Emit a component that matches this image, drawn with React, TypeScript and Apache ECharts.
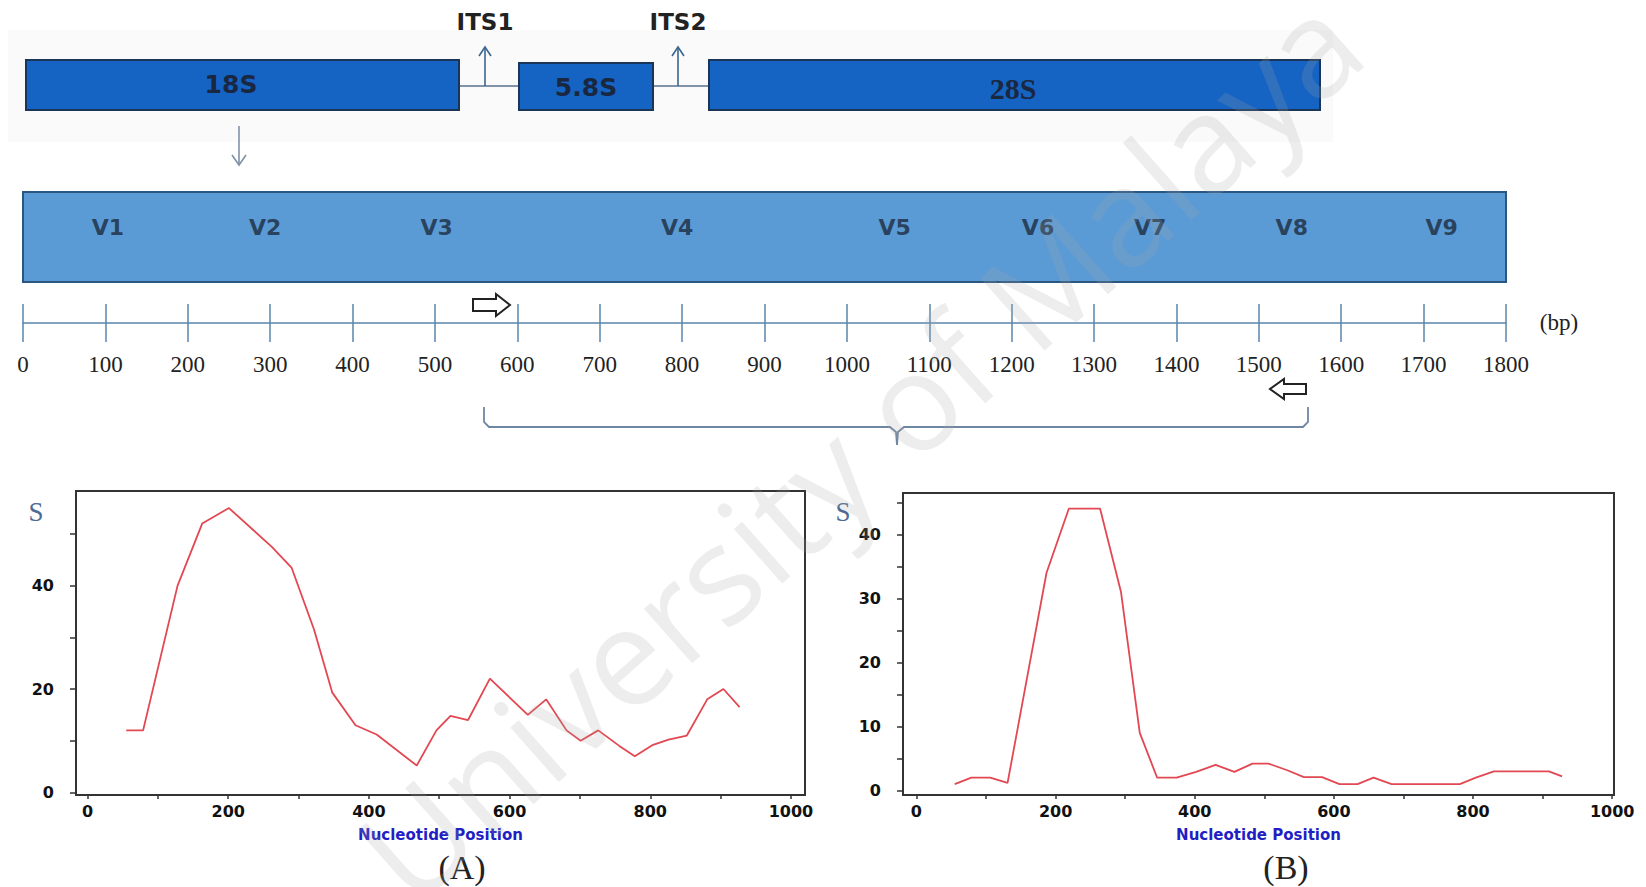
import React, { useEffect, useRef } from "react";
import * as echarts from "echarts";

// ---------- data ----------
const geneNames = ["18S", "5.8S", "28S"];
const spacerNames = ["ITS1", "ITS2"];
const regionNames = ["V1", "V2", "V3", "V4", "V5", "V6", "V7", "V8", "V9"];
const regionPos = [103, 294, 502, 794, 1058, 1232, 1368, 1540, 1722]; // bp
const rulerMin = 0;
const rulerMax = 1800;
const rulerStep = 100;

const xTickValues = [0, 100, 200, 300, 400, 500, 600, 700, 800, 900, 1000];
const xLabelValues = [0, 200, 400, 600, 800, 1000];
const yTickValuesA = [0, 10, 20, 30, 40, 50];
const yLabelValuesA = [0, 20, 40];
const yTickValuesB = [0, 5, 10, 15, 20, 25, 30, 35, 40, 45];
const yLabelValuesB = [0, 10, 20, 30, 40];

const posA = [55, 79, 128, 163, 201, 262, 290, 322, 348, 381, 411, 468, 496, 516, 541, 572, 626, 652, 681, 701, 726, 756, 778, 804, 826, 852, 881, 904, 927];
const valA = [12, 12, 40, 52, 55, 47.5, 43.5, 31.5, 19.3, 13, 11.2, 5.2, 12, 14.8, 14, 22, 15, 18, 12, 10, 12, 9, 7, 9.2, 10.2, 11, 18, 20, 16.5];

const posB = [55, 79, 106, 131, 187, 219, 264, 294, 321, 346, 374, 402, 430, 457, 483, 506, 532, 557, 583, 608, 634, 657, 683, 781, 804, 830, 909, 928];
const valB = [1, 2, 2, 1.2, 34, 44, 44, 31, 9, 2, 2, 2.9, 4, 2.9, 4.2, 4.2, 3.2, 2.1, 2.1, 1, 1, 2, 1, 1, 2, 3, 3, 2.2];

const axisTitle = "Nucleotide Position";
const yTitle = "S";
const panelNames = ["(A)", "(B)"];
const unitLabel = "(bp)";
const watermark = "University of Malaya";

const LINE_RED = "#e24852";
const AXIS_DARK = "#333333";
const plain = (v: number) => String(v);

function plotAxes(gridIndex: number, xmin: number, xmax: number) {
  return {
    gridIndex,
    type: "value",
    min: xmin,
    max: xmax,
    axisLine: { onZero: false, lineStyle: { color: AXIS_DARK, width: 2 } },
    axisTick: { customValues: xTickValues, length: 4, lineStyle: { color: AXIS_DARK, width: 1.5 } },
    axisLabel: {
      customValues: xLabelValues,
      formatter: plain,
      margin: 8,
      fontFamily: "DejaVu Sans",
      fontWeight: "bold",
      fontSize: 16,
      color: "#111",
    },
    splitLine: { show: false },
    name: axisTitle,
    nameLocation: "middle",
    nameGap: 32,
    nameTextStyle: { color: "#1f1fc4", fontFamily: "DejaVu Sans", fontWeight: "bold", fontSize: 15 },
  };
}

function plotYAxis(gridIndex: number, ymin: number, ymax: number, ticks: number[], labels: number[]) {
  return {
    gridIndex,
    type: "value",
    min: ymin,
    max: ymax,
    axisLine: { show: true, onZero: false, lineStyle: { color: AXIS_DARK, width: 2 } },
    axisTick: { show: true, customValues: ticks, length: 6, lineStyle: { color: AXIS_DARK, width: 1.5 } },
    axisLabel: {
      customValues: labels,
      formatter: plain,
      margin: 22,
      fontFamily: "DejaVu Sans",
      fontWeight: "bold",
      fontSize: 16,
      color: "#111",
    },
    splitLine: { show: false },
  };
}

export default function App() {
  const ref = useRef<HTMLDivElement>(null);

  useEffect(() => {
    if (!ref.current) return;
    const chart = echarts.init(ref.current, null, { renderer: "svg" });

    const sans = "DejaVu Sans";
    const serif = "Liberation Serif";

    const arrowUp = (x: number, y1: number, y2: number, color: string) => [
      { type: "line", shape: { x1: x, y1, x2: x, y2 }, style: { stroke: color, lineWidth: 1.6 } },
      { type: "polyline", shape: { points: [[x - 6, y2 + 9], [x, y2], [x + 6, y2 + 9]] }, style: { stroke: color, lineWidth: 1.6, fill: null } },
    ];

    const graphics: any[] = [
      // faint band behind the gene map
      { type: "rect", z: -10, shape: { x: 8, y: 30, width: 1325, height: 112 }, style: { fill: "#fafafa" } },
      // connectors
      { type: "line", shape: { x1: 459, y1: 86, x2: 519, y2: 86 }, style: { stroke: "#56718f", lineWidth: 1.6 } },
      { type: "line", shape: { x1: 653, y1: 86, x2: 709, y2: 86 }, style: { stroke: "#56718f", lineWidth: 1.6 } },
      // gene boxes
      { type: "rect", shape: { x: 26, y: 60, width: 433, height: 50 }, style: { fill: "#1563c2", stroke: "#1b3556", lineWidth: 2 } },
      { type: "rect", shape: { x: 519, y: 63, width: 134, height: 47 }, style: { fill: "#1563c2", stroke: "#1b3556", lineWidth: 2 } },
      { type: "rect", shape: { x: 709, y: 60, width: 611, height: 50 }, style: { fill: "#1563c2", stroke: "#1b3556", lineWidth: 2 } },
      { type: "text", x: 231, y: 84, style: { text: geneNames[0], font: `bold 25px "${sans}"`, fill: "#1a2740", textAlign: "center", textVerticalAlign: "middle" } },
      { type: "text", x: 586, y: 87, style: { text: geneNames[1], font: `bold 25px "${sans}"`, fill: "#1a2740", textAlign: "center", textVerticalAlign: "middle" } },
      { type: "text", x: 1013, y: 88, style: { text: geneNames[2], font: `bold 30px "${serif}"`, fill: "#1a2740", textAlign: "center", textVerticalAlign: "middle" } },
      // ITS arrows and labels
      ...arrowUp(485, 86, 47, "#3a6690"),
      ...arrowUp(678, 86, 47, "#3a6690"),
      { type: "text", x: 485, y: 22, style: { text: spacerNames[0], font: `bold 23px "${sans}"`, fill: "#222", textAlign: "center", textVerticalAlign: "middle" } },
      { type: "text", x: 678, y: 22, style: { text: spacerNames[1], font: `bold 23px "${sans}"`, fill: "#222", textAlign: "center", textVerticalAlign: "middle" } },
      // down arrow from 18S
      { type: "line", shape: { x1: 239, y1: 126, x2: 239, y2: 165 }, style: { stroke: "#8092a8", lineWidth: 1.6 } },
      { type: "polyline", shape: { points: [[232, 155], [239, 165], [246, 155]] }, style: { stroke: "#8092a8", lineWidth: 1.6, fill: null } },
      // hollow primer arrows
      {
        type: "polygon",
        shape: { points: [[473, 299], [496, 299], [496, 294], [510, 305], [496, 316], [496, 311], [473, 311]] },
        style: { fill: "#fff", stroke: "#222", lineWidth: 2 },
      },
      {
        type: "polygon",
        shape: { points: [[1306, 384], [1284, 384], [1284, 379], [1270, 389], [1284, 399], [1284, 394], [1306, 394]] },
        style: { fill: "#fff", stroke: "#222", lineWidth: 2 },
      },
      // brace
      {
        type: "polyline",
        shape: {
          points: [
            [484, 407], [484, 422], [489, 427], [890, 427], [896, 432], [897, 445],
            [898, 432], [904, 427], [1303, 427], [1308, 422], [1308, 407],
          ],
        },
        style: { stroke: "#6f86a2", lineWidth: 1.8, fill: null },
      },
      { type: "text", x: 1559, y: 322, style: { text: unitLabel, font: `23px "${serif}"`, fill: "#222", textAlign: "center", textVerticalAlign: "middle" } },
      // S labels & panel names
      { type: "text", x: 36, y: 512, style: { text: yTitle, font: `27px "${serif}"`, fill: "#4d6b94", textAlign: "center", textVerticalAlign: "middle" } },
      { type: "text", x: 843, y: 512, style: { text: yTitle, font: `27px "${serif}"`, fill: "#4d6b94", textAlign: "center", textVerticalAlign: "middle" } },
      { type: "text", x: 462, y: 867, style: { text: panelNames[0], font: `34px "${serif}"`, fill: "#222", textAlign: "center", textVerticalAlign: "middle" } },
      { type: "text", x: 1286, y: 867, style: { text: panelNames[1], font: `34px "${serif}"`, fill: "#222", textAlign: "center", textVerticalAlign: "middle" } },
      // watermark
      {
        type: "text",
        x: 858,
        y: 446,
        rotation: 0.726,
        z: 100,
        silent: true,
        style: { text: watermark, font: `136px "Open Sans"`, fill: "rgba(165,165,165,0.2)", textAlign: "center", textVerticalAlign: "middle" },
      },
    ];

    const option: any = {
      animation: false,
      backgroundColor: "#ffffff",
      grid: [
        { left: 23, top: 192, width: 1483, height: 90, show: true, backgroundColor: "#5b9bd5", borderColor: "#2b5680", borderWidth: 2 },
        { left: 23, top: 304, width: 1483, height: 38 },
        { left: 76, top: 491, width: 729, height: 304, show: true, backgroundColor: "transparent", borderColor: AXIS_DARK, borderWidth: 2 },
        { left: 903, top: 493, width: 711, height: 302, show: true, backgroundColor: "transparent", borderColor: AXIS_DARK, borderWidth: 2 },
      ],
      xAxis: [
        { gridIndex: 0, type: "value", min: rulerMin, max: rulerMax, show: false },
        {
          gridIndex: 1,
          type: "value",
          min: rulerMin,
          max: rulerMax,
          interval: rulerStep,
          axisLine: { show: true, onZero: true, lineStyle: { color: "#5a86ad", width: 1.5 } },
          axisTick: { show: false },
          splitLine: { show: true, showMinLine: true, showMaxLine: true, lineStyle: { color: "#5a86ad", width: 1.5 } },
          axisLabel: { margin: 11, formatter: plain, fontFamily: serif, fontSize: 23, color: "#222", showMinLabel: true, showMaxLabel: true },
        },
        plotAxes(2, -16.4, 1020),
        plotAxes(3, -19.3, 1002.6),
      ],
      yAxis: [
        { gridIndex: 0, type: "value", min: 0, max: 1, show: false },
        { gridIndex: 1, type: "value", min: -1, max: 1, show: false },
        plotYAxis(2, -0.5, 58.3, yTickValuesA, yLabelValuesA),
        plotYAxis(3, -0.7, 46.45, yTickValuesB, yLabelValuesB),
      ],
      series: [
        {
          type: "scatter",
          xAxisIndex: 0,
          yAxisIndex: 0,
          symbolSize: 1,
          itemStyle: { color: "transparent" },
          data: regionPos.map((p, i) => ({ value: [p, 0.61], name: regionNames[i] })),
          label: {
            show: true,
            position: "inside",
            formatter: "{b}",
            fontFamily: sans,
            fontWeight: "bold",
            fontSize: 22,
            color: "#1b2a3d",
          },
        },
        {
          type: "line",
          xAxisIndex: 2,
          yAxisIndex: 2,
          showSymbol: false,
          data: posA.map((x, i) => [x, valA[i]]),
          lineStyle: { color: LINE_RED, width: 1.8 },
          itemStyle: { color: LINE_RED },
        },
        {
          type: "line",
          xAxisIndex: 3,
          yAxisIndex: 3,
          showSymbol: false,
          data: posB.map((x, i) => [x, valB[i]]),
          lineStyle: { color: LINE_RED, width: 1.8 },
          itemStyle: { color: LINE_RED },
        },
      ],
      graphic: graphics,
    };

    chart.setOption(option);
    return () => chart.dispose();
  }, []);

  return (
    <div
      ref={ref}
      style={{ position: "fixed", left: 0, top: 0, width: 1646, height: 887, background: "#fff" }}
    />
  );
}
